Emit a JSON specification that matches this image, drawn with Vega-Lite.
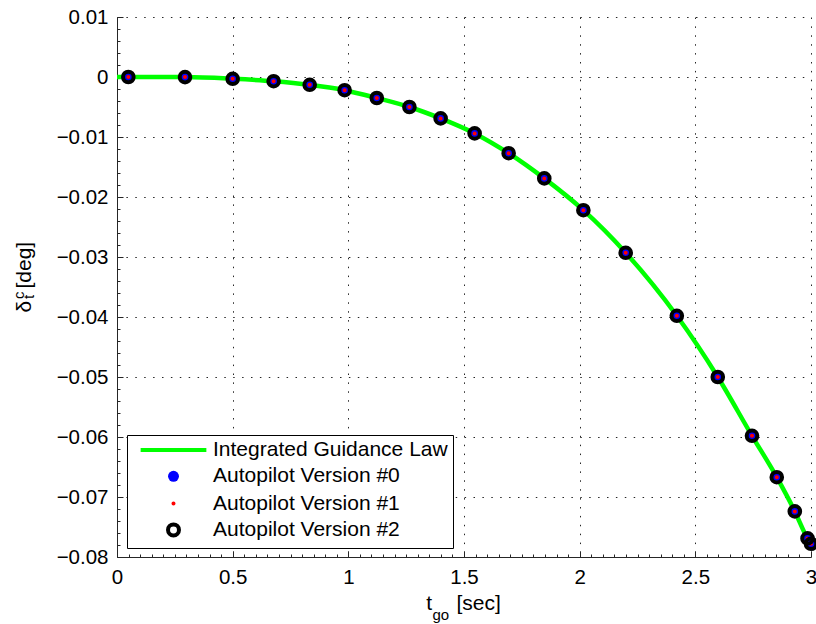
{
  "$schema": "https://vega.github.io/schema/vega-lite/v6.json",
  "width": 694,
  "height": 540,
  "autosize": "none",
  "padding": {"left": 117, "top": 17, "right": 5, "bottom": 67},
  "background": "white",
  "config": {
    "view": {"stroke": null},
    "font": "Liberation Sans",
    "axis": {
      "labelFont": "Liberation Sans",
      "titleFont": "Liberation Sans",
      "labelColor": "black",
      "titleColor": "black",
      "titleFontWeight": "normal",
      "labelFlush": false,
      "labelOverlap": false,
      "domainColor": "#262626",
      "tickColor": "#262626",
      "gridColor": "#262626",
      "gridDash": [1.5, 7.4],
      "gridWidth": 1,
      "gridOpacity": 1
    }
  },
  "data": {
    "values": [
      {"series": "Integrated Guidance Law", "t": 0.0, "delta": 0.0},
      {"series": "Integrated Guidance Law", "t": 0.049, "delta": 0.0},
      {"series": "Integrated Guidance Law", "t": 0.294, "delta": -0.00002},
      {"series": "Integrated Guidance Law", "t": 0.5, "delta": -0.0003},
      {"series": "Integrated Guidance Law", "t": 0.677, "delta": -0.0007},
      {"series": "Integrated Guidance Law", "t": 0.833, "delta": -0.0013},
      {"series": "Integrated Guidance Law", "t": 0.984, "delta": -0.0022},
      {"series": "Integrated Guidance Law", "t": 1.123, "delta": -0.0035},
      {"series": "Integrated Guidance Law", "t": 1.264, "delta": -0.005},
      {"series": "Integrated Guidance Law", "t": 1.399, "delta": -0.0069},
      {"series": "Integrated Guidance Law", "t": 1.546, "delta": -0.0094},
      {"series": "Integrated Guidance Law", "t": 1.693, "delta": -0.0127},
      {"series": "Integrated Guidance Law", "t": 1.847, "delta": -0.0169},
      {"series": "Integrated Guidance Law", "t": 2.016, "delta": -0.0222},
      {"series": "Integrated Guidance Law", "t": 2.199, "delta": -0.0293},
      {"series": "Integrated Guidance Law", "t": 2.42, "delta": -0.0398},
      {"series": "Integrated Guidance Law", "t": 2.597, "delta": -0.05},
      {"series": "Integrated Guidance Law", "t": 2.745, "delta": -0.0598},
      {"series": "Integrated Guidance Law", "t": 2.852, "delta": -0.0667},
      {"series": "Integrated Guidance Law", "t": 2.93, "delta": -0.0724},
      {"series": "Integrated Guidance Law", "t": 2.985, "delta": -0.0769},
      {"series": "Integrated Guidance Law", "t": 3.0, "delta": -0.0778},

      {"series": "Autopilot Version #0", "t": 0.049, "delta": 0.0},
      {"series": "Autopilot Version #0", "t": 0.294, "delta": -0.00002},
      {"series": "Autopilot Version #0", "t": 0.5, "delta": -0.0003},
      {"series": "Autopilot Version #0", "t": 0.677, "delta": -0.0007},
      {"series": "Autopilot Version #0", "t": 0.833, "delta": -0.0013},
      {"series": "Autopilot Version #0", "t": 0.984, "delta": -0.0022},
      {"series": "Autopilot Version #0", "t": 1.123, "delta": -0.0035},
      {"series": "Autopilot Version #0", "t": 1.264, "delta": -0.005},
      {"series": "Autopilot Version #0", "t": 1.399, "delta": -0.0069},
      {"series": "Autopilot Version #0", "t": 1.546, "delta": -0.0094},
      {"series": "Autopilot Version #0", "t": 1.693, "delta": -0.0127},
      {"series": "Autopilot Version #0", "t": 1.847, "delta": -0.0169},
      {"series": "Autopilot Version #0", "t": 2.016, "delta": -0.0222},
      {"series": "Autopilot Version #0", "t": 2.199, "delta": -0.0293},
      {"series": "Autopilot Version #0", "t": 2.42, "delta": -0.0398},
      {"series": "Autopilot Version #0", "t": 2.597, "delta": -0.05},
      {"series": "Autopilot Version #0", "t": 2.745, "delta": -0.0598},
      {"series": "Autopilot Version #0", "t": 2.852, "delta": -0.0667},
      {"series": "Autopilot Version #0", "t": 2.93, "delta": -0.0724},
      {"series": "Autopilot Version #0", "t": 2.985, "delta": -0.0769},
      {"series": "Autopilot Version #0", "t": 3.0, "delta": -0.0778},

      {"series": "Autopilot Version #1", "t": 0.049, "delta": 0.0},
      {"series": "Autopilot Version #1", "t": 0.294, "delta": -0.00002},
      {"series": "Autopilot Version #1", "t": 0.5, "delta": -0.0003},
      {"series": "Autopilot Version #1", "t": 0.677, "delta": -0.0007},
      {"series": "Autopilot Version #1", "t": 0.833, "delta": -0.0013},
      {"series": "Autopilot Version #1", "t": 0.984, "delta": -0.0022},
      {"series": "Autopilot Version #1", "t": 1.123, "delta": -0.0035},
      {"series": "Autopilot Version #1", "t": 1.264, "delta": -0.005},
      {"series": "Autopilot Version #1", "t": 1.399, "delta": -0.0069},
      {"series": "Autopilot Version #1", "t": 1.546, "delta": -0.0094},
      {"series": "Autopilot Version #1", "t": 1.693, "delta": -0.0127},
      {"series": "Autopilot Version #1", "t": 1.847, "delta": -0.0169},
      {"series": "Autopilot Version #1", "t": 2.016, "delta": -0.0222},
      {"series": "Autopilot Version #1", "t": 2.199, "delta": -0.0293},
      {"series": "Autopilot Version #1", "t": 2.42, "delta": -0.0398},
      {"series": "Autopilot Version #1", "t": 2.597, "delta": -0.05},
      {"series": "Autopilot Version #1", "t": 2.745, "delta": -0.0598},
      {"series": "Autopilot Version #1", "t": 2.852, "delta": -0.0667},
      {"series": "Autopilot Version #1", "t": 2.93, "delta": -0.0724},
      {"series": "Autopilot Version #1", "t": 2.985, "delta": -0.0769},
      {"series": "Autopilot Version #1", "t": 3.0, "delta": -0.0778},

      {"series": "Autopilot Version #2", "t": 0.049, "delta": 0.0},
      {"series": "Autopilot Version #2", "t": 0.294, "delta": -0.00002},
      {"series": "Autopilot Version #2", "t": 0.5, "delta": -0.0003},
      {"series": "Autopilot Version #2", "t": 0.677, "delta": -0.0007},
      {"series": "Autopilot Version #2", "t": 0.833, "delta": -0.0013},
      {"series": "Autopilot Version #2", "t": 0.984, "delta": -0.0022},
      {"series": "Autopilot Version #2", "t": 1.123, "delta": -0.0035},
      {"series": "Autopilot Version #2", "t": 1.264, "delta": -0.005},
      {"series": "Autopilot Version #2", "t": 1.399, "delta": -0.0069},
      {"series": "Autopilot Version #2", "t": 1.546, "delta": -0.0094},
      {"series": "Autopilot Version #2", "t": 1.693, "delta": -0.0127},
      {"series": "Autopilot Version #2", "t": 1.847, "delta": -0.0169},
      {"series": "Autopilot Version #2", "t": 2.016, "delta": -0.0222},
      {"series": "Autopilot Version #2", "t": 2.199, "delta": -0.0293},
      {"series": "Autopilot Version #2", "t": 2.42, "delta": -0.0398},
      {"series": "Autopilot Version #2", "t": 2.597, "delta": -0.05},
      {"series": "Autopilot Version #2", "t": 2.745, "delta": -0.0598},
      {"series": "Autopilot Version #2", "t": 2.852, "delta": -0.0667},
      {"series": "Autopilot Version #2", "t": 2.93, "delta": -0.0724},
      {"series": "Autopilot Version #2", "t": 2.985, "delta": -0.0769},
      {"series": "Autopilot Version #2", "t": 3.0, "delta": -0.0778}
    ]
  },
  "layer": [
    {
      "transform": [{"filter": "datum.series === 'Integrated Guidance Law'"}],
      "mark": {"type": "line", "color": "#00ff00", "strokeWidth": 4.5, "interpolate": "monotone"},
      "encoding": {
        "x": {
          "field": "t", "type": "quantitative",
          "scale": {"domain": [0, 3], "nice": false, "zero": false},
          "axis": {
            "orient": "bottom",
            "values": [0, 0.5, 1, 1.5, 2, 2.5, 3],
            "format": "~g",
            "grid": true,
            "domain": true, "domainWidth": 1,
            "ticks": true, "tickSize": -6,
            "labelPadding": 16, "labelFontSize": 20.5,
            "title": "t", "titleX": 308.7, "titleY": 52, "titleAlign": "left",
            "titleBaseline": "alphabetic", "titleAngle": 0, "titleFontSize": 21
          }
        },
        "y": {
          "field": "delta", "type": "quantitative",
          "scale": {"domain": [-0.08, 0.01], "nice": false, "zero": false},
          "axis": {
            "orient": "left",
            "values": [-0.08, -0.07, -0.06, -0.05, -0.04, -0.03, -0.02, -0.01, 0, 0.01],
            "format": ".2~f",
            "grid": true,
            "domain": true, "domainWidth": 1,
            "ticks": true, "tickSize": -6,
            "labelPadding": 15, "labelFontSize": 20.5,
            "title": "δ", "titleX": -86.5, "titleY": 295, "titleAlign": "left",
            "titleBaseline": "alphabetic", "titleAngle": -90, "titleFontSize": 21
          }
        }
      }
    },
    {
      "transform": [{"filter": "datum.series === 'Autopilot Version #0'"}],
      "mark": {"type": "point", "filled": true, "size": 113, "opacity": 1},
      "encoding": {
        "x": {
          "field": "t", "type": "quantitative",
          "scale": {"domain": [0, 3], "nice": false, "zero": false},
          "axis": {
            "orient": "bottom", "labels": false, "ticks": false, "grid": false, "domain": false,
            "title": "go", "titleX": 315, "titleY": 62, "titleAlign": "left",
            "titleBaseline": "alphabetic", "titleAngle": 0, "titleFontSize": 15
          }
        },
        "y": {
          "field": "delta", "type": "quantitative",
          "scale": {"domain": [-0.08, 0.01], "nice": false, "zero": false},
          "axis": {
            "orient": "left", "labels": false, "ticks": false, "grid": false, "domain": false,
            "title": "t", "titleX": -84, "titleY": 281.5, "titleAlign": "left",
            "titleBaseline": "alphabetic", "titleAngle": -90, "titleFontSize": 15
          }
        },
        "fill": {
          "field": "series", "type": "nominal",
          "scale": {
            "domain": ["Integrated Guidance Law", "Autopilot Version #0", "Autopilot Version #1", "Autopilot Version #2"],
            "range": ["transparent", "#0000ff", "#ff0000", "transparent"]
          },
          "legend": {
            "title": null, "orient": "none", "legendX": 10, "legendY": 418, "padding": 4.5,
            "fillColor": "white", "strokeColor": "black",
            "labelFontSize": 21, "labelFont": "Liberation Sans", "labelColor": "black",
            "labelOffset": 29, "symbolOffset": 31.5, "symbolSize": 120, "symbolStrokeWidth": 4,
            "rowPadding": 2.3, "labelLimit": 400
          }
        },
        "stroke": {
          "field": "series", "type": "nominal",
          "scale": {
            "domain": ["Integrated Guidance Law", "Autopilot Version #0", "Autopilot Version #1", "Autopilot Version #2"],
            "range": ["#00ff00", "transparent", "transparent", "#000000"]
          },
          "legend": {
            "title": null, "orient": "none", "legendX": 10, "legendY": 418, "padding": 4.5,
            "fillColor": "white", "strokeColor": "black",
            "labelFontSize": 21, "labelFont": "Liberation Sans", "labelColor": "black",
            "labelOffset": 29, "symbolOffset": 31.5, "symbolSize": 120, "symbolStrokeWidth": 4,
            "rowPadding": 2.3, "labelLimit": 400
          }
        },
        "shape": {
          "field": "series", "type": "nominal",
          "scale": {
            "domain": ["Integrated Guidance Law", "Autopilot Version #0", "Autopilot Version #1", "Autopilot Version #2"],
            "range": ["M-6,0H6", "circle", "M-0.365,0A0.365,0.365 0 1,0 0.365,0A0.365,0.365 0 1,0 -0.365,0Z", "circle"]
          },
          "legend": {
            "title": null, "orient": "none", "legendX": 10, "legendY": 418, "padding": 4.5,
            "fillColor": "white", "strokeColor": "black",
            "labelFontSize": 21, "labelFont": "Liberation Sans", "labelColor": "black",
            "labelOffset": 29, "symbolOffset": 31.5, "symbolSize": 120, "symbolStrokeWidth": 4,
            "rowPadding": 2.3, "labelLimit": 400
          }
        }
      }
    },
    {
      "transform": [{"filter": "datum.series === 'Autopilot Version #1'"}],
      "mark": {"type": "point", "filled": true, "size": 120, "opacity": 1},
      "encoding": {
        "x": {
          "field": "t", "type": "quantitative",
          "scale": {"domain": [0, 3], "nice": false, "zero": false},
          "axis": {
            "orient": "bottom", "labels": false, "ticks": false, "grid": false, "domain": false,
            "title": "[sec]", "titleX": 339, "titleY": 52, "titleAlign": "left",
            "titleBaseline": "alphabetic", "titleAngle": 0, "titleFontSize": 21
          }
        },
        "y": {
          "field": "delta", "type": "quantitative",
          "scale": {"domain": [-0.08, 0.01], "nice": false, "zero": false},
          "axis": {
            "orient": "left", "labels": false, "ticks": false, "grid": false, "domain": false,
            "title": "c", "titleX": -93.5, "titleY": 281.5, "titleAlign": "left",
            "titleBaseline": "alphabetic", "titleAngle": -90, "titleFontSize": 15
          }
        },
        "fill": {
          "field": "series", "type": "nominal",
          "scale": {
            "domain": ["Integrated Guidance Law", "Autopilot Version #0", "Autopilot Version #1", "Autopilot Version #2"],
            "range": ["transparent", "#0000ff", "#ff0000", "transparent"]
          }
        },
        "stroke": {
          "field": "series", "type": "nominal",
          "scale": {
            "domain": ["Integrated Guidance Law", "Autopilot Version #0", "Autopilot Version #1", "Autopilot Version #2"],
            "range": ["#00ff00", "transparent", "transparent", "#000000"]
          }
        },
        "shape": {
          "field": "series", "type": "nominal",
          "scale": {
            "domain": ["Integrated Guidance Law", "Autopilot Version #0", "Autopilot Version #1", "Autopilot Version #2"],
            "range": ["M-6,0H6", "circle", "M-0.365,0A0.365,0.365 0 1,0 0.365,0A0.365,0.365 0 1,0 -0.365,0Z", "circle"]
          }
        }
      }
    },
    {
      "transform": [{"filter": "datum.series === 'Autopilot Version #2'"}],
      "mark": {"type": "point", "filled": false, "size": 113, "opacity": 1, "strokeWidth": 4},
      "encoding": {
        "x": {
          "field": "t", "type": "quantitative",
          "scale": {"domain": [0, 3], "nice": false, "zero": false},
          "axis": {
            "orient": "bottom", "labels": false, "grid": false, "domain": false,
            "ticks": true, "tickSize": -3,
            "values": [0.05,0.1,0.15,0.2,0.25,0.3,0.35,0.4,0.45,0.55,0.6,0.65,0.7,0.75,0.8,0.85,0.9,0.95,1.05,1.1,1.15,1.2,1.25,1.3,1.35,1.4,1.45,1.55,1.6,1.65,1.7,1.75,1.8,1.85,1.9,1.95,2.05,2.1,2.15,2.2,2.25,2.3,2.35,2.4,2.45,2.55,2.6,2.65,2.7,2.75,2.8,2.85,2.9,2.95],
            "title": null
          }
        },
        "y": {
          "field": "delta", "type": "quantitative",
          "scale": {"domain": [-0.08, 0.01], "nice": false, "zero": false},
          "axis": {
            "orient": "left", "labels": false, "grid": false, "domain": false,
            "ticks": true, "tickSize": -3,
            "values": [-0.078,-0.076,-0.074,-0.072,-0.068,-0.066,-0.064,-0.062,-0.058,-0.056,-0.054,-0.052,-0.048,-0.046,-0.044,-0.042,-0.038,-0.036,-0.034,-0.032,-0.028,-0.026,-0.024,-0.022,-0.018,-0.016,-0.014,-0.012,-0.008,-0.006,-0.004,-0.002,0.002,0.004,0.006,0.008],
            "title": "[deg]", "titleX": -86.5, "titleY": 271, "titleAlign": "left",
            "titleBaseline": "alphabetic", "titleAngle": -90, "titleFontSize": 21
          }
        },
        "fill": {
          "field": "series", "type": "nominal",
          "scale": {
            "domain": ["Integrated Guidance Law", "Autopilot Version #0", "Autopilot Version #1", "Autopilot Version #2"],
            "range": ["transparent", "#0000ff", "#ff0000", "transparent"]
          }
        },
        "stroke": {
          "field": "series", "type": "nominal",
          "scale": {
            "domain": ["Integrated Guidance Law", "Autopilot Version #0", "Autopilot Version #1", "Autopilot Version #2"],
            "range": ["#00ff00", "transparent", "transparent", "#000000"]
          }
        },
        "shape": {
          "field": "series", "type": "nominal",
          "scale": {
            "domain": ["Integrated Guidance Law", "Autopilot Version #0", "Autopilot Version #1", "Autopilot Version #2"],
            "range": ["M-6,0H6", "circle", "M-0.365,0A0.365,0.365 0 1,0 0.365,0A0.365,0.365 0 1,0 -0.365,0Z", "circle"]
          }
        }
      }
    }
  ],
  "resolve": {"axis": {"x": "independent", "y": "independent"}}
}
